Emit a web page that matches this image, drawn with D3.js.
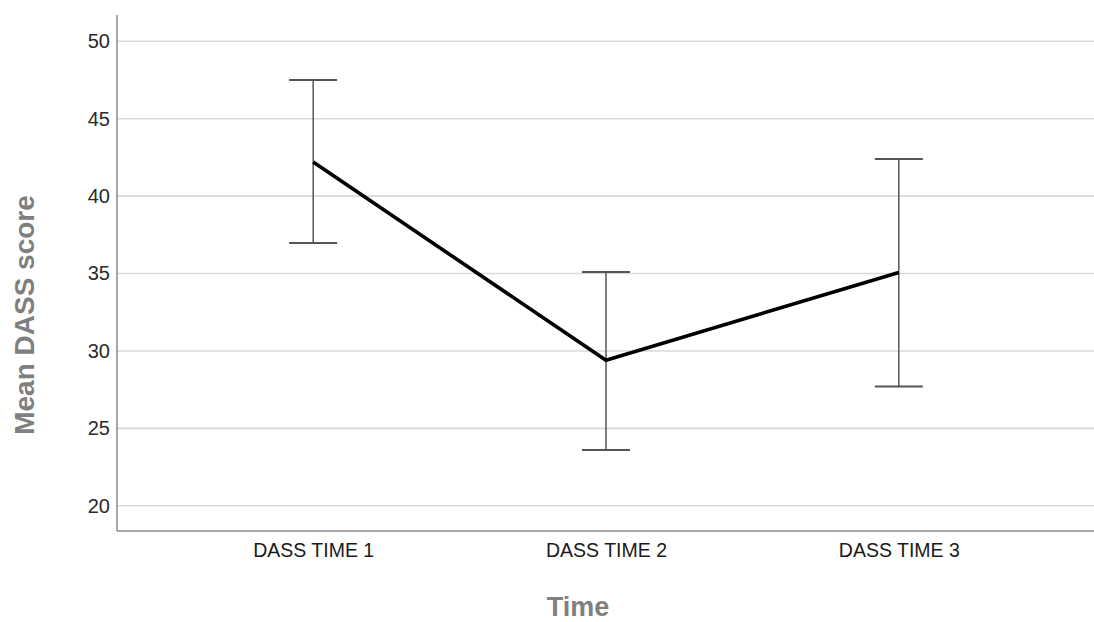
<!DOCTYPE html>
<html>
<head>
<meta charset="utf-8">
<script src="https://cdn.jsdelivr.net/npm/d3@7"></script>
<style>
  html, body { margin: 0; padding: 0; background: #fff; }
  svg { display: block; }
</style>
</head>
<body>
<svg id="chart" width="1094" height="622"></svg>
<script>
const categories = ["DASS TIME 1", "DASS TIME 2", "DASS TIME 3"];
const means = [42.2, 29.4, 35.07];
const lowerCI = [36.98, 23.6, 27.7];
const upperCI = [47.5, 35.1, 42.4];
const yTicks = [20, 25, 30, 35, 40, 45, 50];
const yTitle = "Mean DASS score";
const xTitle = "Time";

const W = 1094, H = 622;
const plot = { left: 117, right: 1095, top: 15, bottom: 531 };

const svg = d3.select("#chart");

const x = d3.scalePoint()
  .domain(categories)
  .range([plot.left, plot.right])
  .padding(0.67);

const y = d3.scaleLinear()
  .domain([18.37, 51.7])
  .range([plot.bottom, plot.top]);

// gridlines
svg.append("g")
  .selectAll("line")
  .data(yTicks)
  .join("line")
  .attr("x1", plot.left)
  .attr("x2", plot.right)
  .attr("y1", d => y(d))
  .attr("y2", d => y(d))
  .attr("stroke", "#d9d9d9")
  .attr("stroke-width", 1.6);

// y axis
const yAxis = svg.append("g")
  .attr("transform", `translate(${plot.left},0)`)
  .call(d3.axisLeft(y).tickValues(yTicks).tickSize(0).tickPadding(7));
yAxis.select(".domain").remove();
yAxis.selectAll("text")
  .attr("font-family", "'Liberation Sans', Arial, sans-serif")
  .attr("font-size", 20)
  .attr("fill", "#2a2a2a");

// x axis
const xAxis = svg.append("g")
  .attr("transform", `translate(0,${plot.bottom})`)
  .call(d3.axisBottom(x).tickSize(0).tickPadding(12));
xAxis.select(".domain").remove();
xAxis.selectAll("text")
  .attr("font-family", "'Liberation Sans', Arial, sans-serif")
  .attr("font-size", 19.5)
  .attr("fill", "#1a1a1a");

// axis lines
svg.append("line")
  .attr("x1", plot.left).attr("x2", plot.left)
  .attr("y1", plot.top).attr("y2", plot.bottom)
  .attr("stroke", "#8a8a8a").attr("stroke-width", 1.5);
svg.append("line")
  .attr("x1", plot.left).attr("x2", plot.right)
  .attr("y1", plot.bottom).attr("y2", plot.bottom)
  .attr("stroke", "#8a8a8a").attr("stroke-width", 1.5);

// error bars
const capHalf = 24;
const eb = svg.append("g")
  .selectAll("g")
  .data(categories.map((c, i) => ({ c, lo: lowerCI[i], hi: upperCI[i] })))
  .join("g")
  .attr("stroke", "#555")
  .attr("fill", "none");
eb.append("line")
  .attr("x1", d => x(d.c)).attr("x2", d => x(d.c))
  .attr("y1", d => y(d.lo)).attr("y2", d => y(d.hi))
  .attr("stroke-width", 1.5);
eb.append("line")
  .attr("x1", d => x(d.c) - capHalf).attr("x2", d => x(d.c) + capHalf)
  .attr("y1", d => y(d.hi)).attr("y2", d => y(d.hi))
  .attr("stroke-width", 2);
eb.append("line")
  .attr("x1", d => x(d.c) - capHalf).attr("x2", d => x(d.c) + capHalf)
  .attr("y1", d => y(d.lo)).attr("y2", d => y(d.lo))
  .attr("stroke-width", 2);

// mean line
const line = d3.line()
  .x((d, i) => x(categories[i]))
  .y(d => y(d));
svg.append("path")
  .datum(means)
  .attr("d", line)
  .attr("fill", "none")
  .attr("stroke", "#000")
  .attr("stroke-width", 3.6)
  .attr("stroke-linejoin", "miter");

// titles
svg.append("text")
  .attr("transform", `translate(34,${315}) rotate(-90)`)
  .attr("text-anchor", "middle")
  .attr("font-family", "'Liberation Sans', Arial, sans-serif")
  .attr("font-weight", "bold")
  .attr("font-size", 28)
  .attr("fill", "#7f7f7f")
  .text(yTitle);

svg.append("text")
  .attr("x", 578)
  .attr("y", 616)
  .attr("text-anchor", "middle")
  .attr("font-family", "'Liberation Sans', Arial, sans-serif")
  .attr("font-weight", "bold")
  .attr("font-size", 27)
  .attr("fill", "#7f7f7f")
  .text(xTitle);
</script>
</body>
</html>
